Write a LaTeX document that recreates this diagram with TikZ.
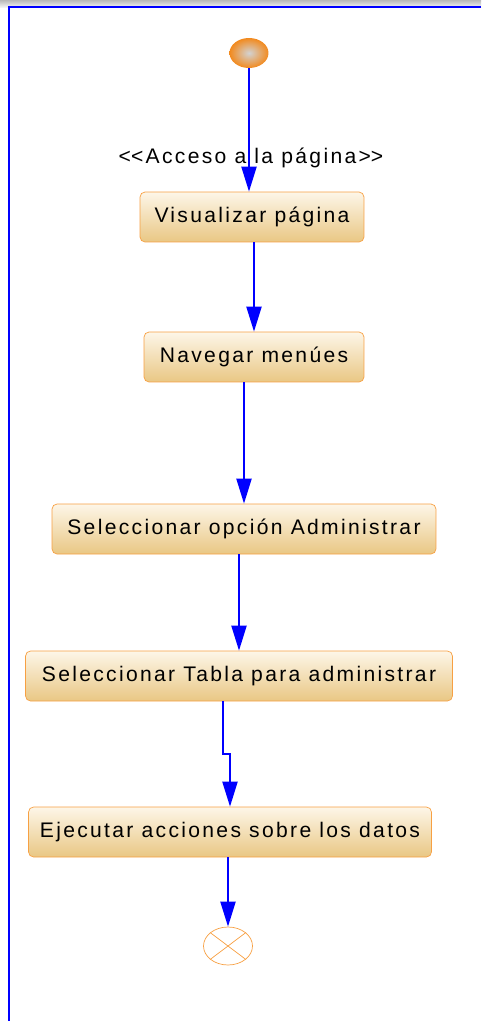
\documentclass[tikz,border=0pt]{standalone}
\usepackage{fontspec}
\setmainfont{Liberation Sans}[LetterSpace=11]
\usetikzlibrary{arrows.meta,shapes.geometric}

\definecolor{actborde}{HTML}{F7A043}
\definecolor{actclaro}{HTML}{FDF6E8}
\definecolor{actoscuro}{HTML}{E9C784}
\definecolor{flujoazul}{HTML}{0000FF}
\definecolor{inicionar}{HTML}{F28A1E}

\tikzset{
  actividad/.style={draw=actborde, rounded corners=0.1cm, top color=actclaro, bottom color=actoscuro,
    minimum height=1cm, inner sep=0pt, font=\fontsize{12}{14}\selectfont},
  flujo/.style={draw=flujoazul, line width=1.15pt, -{Triangle[length=0.5cm,width=0.3cm]}},
}

\begin{document}
\begin{tikzpicture}[x=0.02cm, y=-0.02cm]
        \useasboundingbox (0,0) rectangle (481,1021);
        % marco de la ventana
        \shade[top color=gray!55, bottom color=gray!10] (0,0) rectangle (481,7);
        \draw[flujoazul, line width=0.8pt] (481,7) -- (9,7) -- (9,1021);

        \node[ellipse, minimum width=0.78cm, minimum height=0.6cm, inner sep=0pt,
              inner color=gray!35, outer color=inicionar] (inicio) at (249,53) {};
        \node[font=\fontsize{12}{14}\selectfont] (acceso) at (251,158) {<\kern0pt<Acceso a la página>\kern0pt>};

        \node[actividad, minimum width=4.48cm] (visualizar) at (252,217) {Visualizar página};
        \node[actividad, minimum width=4.4cm] (navegar) at (254,357) {Navegar menúes};
        \node[actividad, minimum width=7.68cm] (opcion) at (244,529) {Seleccionar opción Administrar};
        \node[actividad, minimum width=8.54cm] (tabla) at (239,676) {Seleccionar Tabla para administrar};
        \node[actividad, minimum width=8.06cm] (ejecutar) at (230,832) {Ejecutar acciones sobre los datos};

        \node[ellipse, draw=actborde, minimum width=0.98cm, minimum height=0.76cm, inner sep=0pt] (fin) at (228,946) {};
        \draw[actborde] (fin.37) -- (fin.217) (fin.143) -- (fin.323);

        % flujos
        \draw[flujo] (inicio.south) -- (inicio.south |- visualizar.north);
        \draw[flujo] (visualizar.south -| navegar.north) -- (navegar.north);
        \draw[flujo] (navegar.south -| opcion.north) -- (opcion.north);
        \draw[flujo] (opcion.south -| tabla.north) -- (tabla.north);
        \draw[flujo] ([xshift=-0.32cm]tabla.south) -- ++(0,53) -| (ejecutar.north);
        \draw[flujo] (ejecutar.south -| fin.north) -- (fin.north);
\end{tikzpicture}
\end{document}
